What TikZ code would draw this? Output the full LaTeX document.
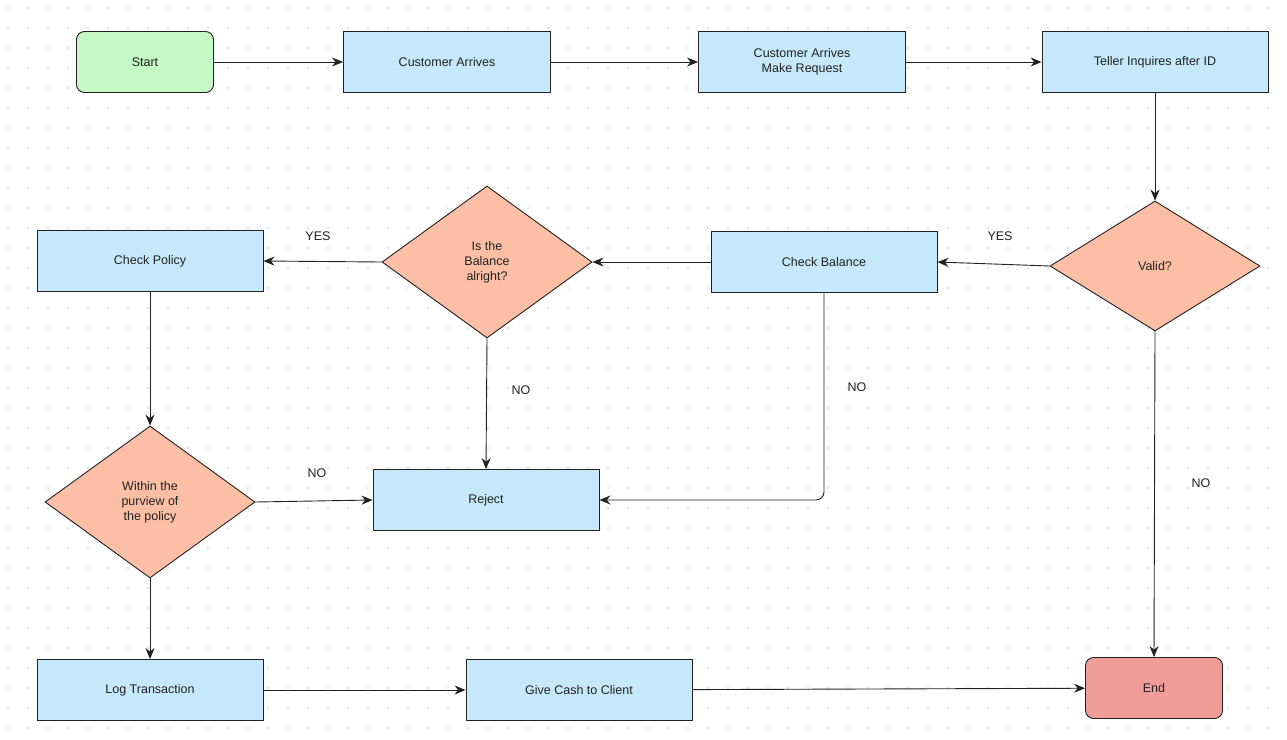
\documentclass[tikz,border=0pt]{standalone}
\usepackage{fontspec}
\setmainfont{Liberation Sans}
\usetikzlibrary{shapes.geometric,arrows.meta}
\definecolor{boxc}{HTML}{C5E9FA}
\definecolor{dia}{HTML}{FCBFA6}
\definecolor{startc}{HTML}{C4F8C4}
\definecolor{endc}{HTML}{F09C98}
\definecolor{ln}{HTML}{222222}
\begin{document}
\begin{tikzpicture}[x=1pt,y=-1pt,
  every node/.style={font=\fontsize{12.5}{15}\selectfont, text=ln},
  proc/.style={draw=ln, line width=0.9pt, fill=boxc, minimum width=226, minimum height=61, align=center, inner sep=0},
  term/.style={proc, rounded corners=8pt, minimum width=137},
  dec/.style={draw=ln, line width=0.9pt, fill=dia, diamond, minimum width=210, minimum height=152, inner sep=0, align=center},
  arr/.style={draw=ln, line width=0.9pt, -{Stealth[length=11pt,width=9pt]}},
  lbl/.style={font=\fontsize{12.5}{15}\selectfont}]
\useasboundingbox (0,0) rectangle (1287,739);
\fill[white] (0,0) rectangle (1287,739);
\foreach \i in {0,...,64}{\foreach \j in {0,...,36}{\fill[black!22] (\i*20+8,\j*20+8) circle (0.9);}}
\node[term, fill=startc] (start) at (145,62) {Start};
\node[proc, minimum width=207] (ca) at (447,62) {Customer Arrives};
\node[proc, minimum width=207] (cr) at (802,62) {Customer Arrives\\Make Request};
\node[proc] (tel) at (1155,62) {Teller Inquires after ID};
\node[dec, minimum height=130] (val) at (1155,266) {Valid?};
\node[proc] (cb) at (824,262) {Check Balance};
\node[dec] (bal) at (487,262) {Is the\\Balance\\alright?};
\node[proc] (cp) at (150,261) {Check Policy};
\node[dec] (pur) at (150,502) {Within the\\purview of\\the policy};
\node[proc] (rej) at (486,500) {Reject};
\node[proc] (log) at (150,690) {Log Transaction};
\node[proc] (cash) at (579,690) {Give Cash to Client};
\node[term, fill=endc] (end) at (1154,688) {End};
\draw[arr] (start) -- (ca);
\draw[arr] (ca) -- (cr);
\draw[arr] (cr) -- (tel);
\draw[arr] (tel) -- (val);
\draw[arr] (val.west) -- (cb.east);
\draw[arr] (val.south) -- (end.north);
\draw[arr] (cb.west) -- (bal.east);
\draw[arr] (bal.west) -- (cp.east);
\draw[arr] (bal.south) -- (rej.north);
\draw[arr, rounded corners=8pt] (cb.south) |- (rej.east);
\draw[arr] (cp) -- (pur);
\draw[arr] (pur.east) -- (rej.west);
\draw[arr] (pur.south) -- (log.north);
\draw[arr] (log) -- (cash);
\draw[arr] (cash) -- (end);
\node[lbl] (l1) at (1000,236) {YES};
\node[lbl] (l2) at (1201,483) {NO};
\node[lbl] (l3) at (318,236) {YES};
\node[lbl] (l4) at (521,390) {NO};
\node[lbl] (l5) at (857,387) {NO};
\node[lbl] (l6) at (317,473) {NO};
\end{tikzpicture}
\end{document}
